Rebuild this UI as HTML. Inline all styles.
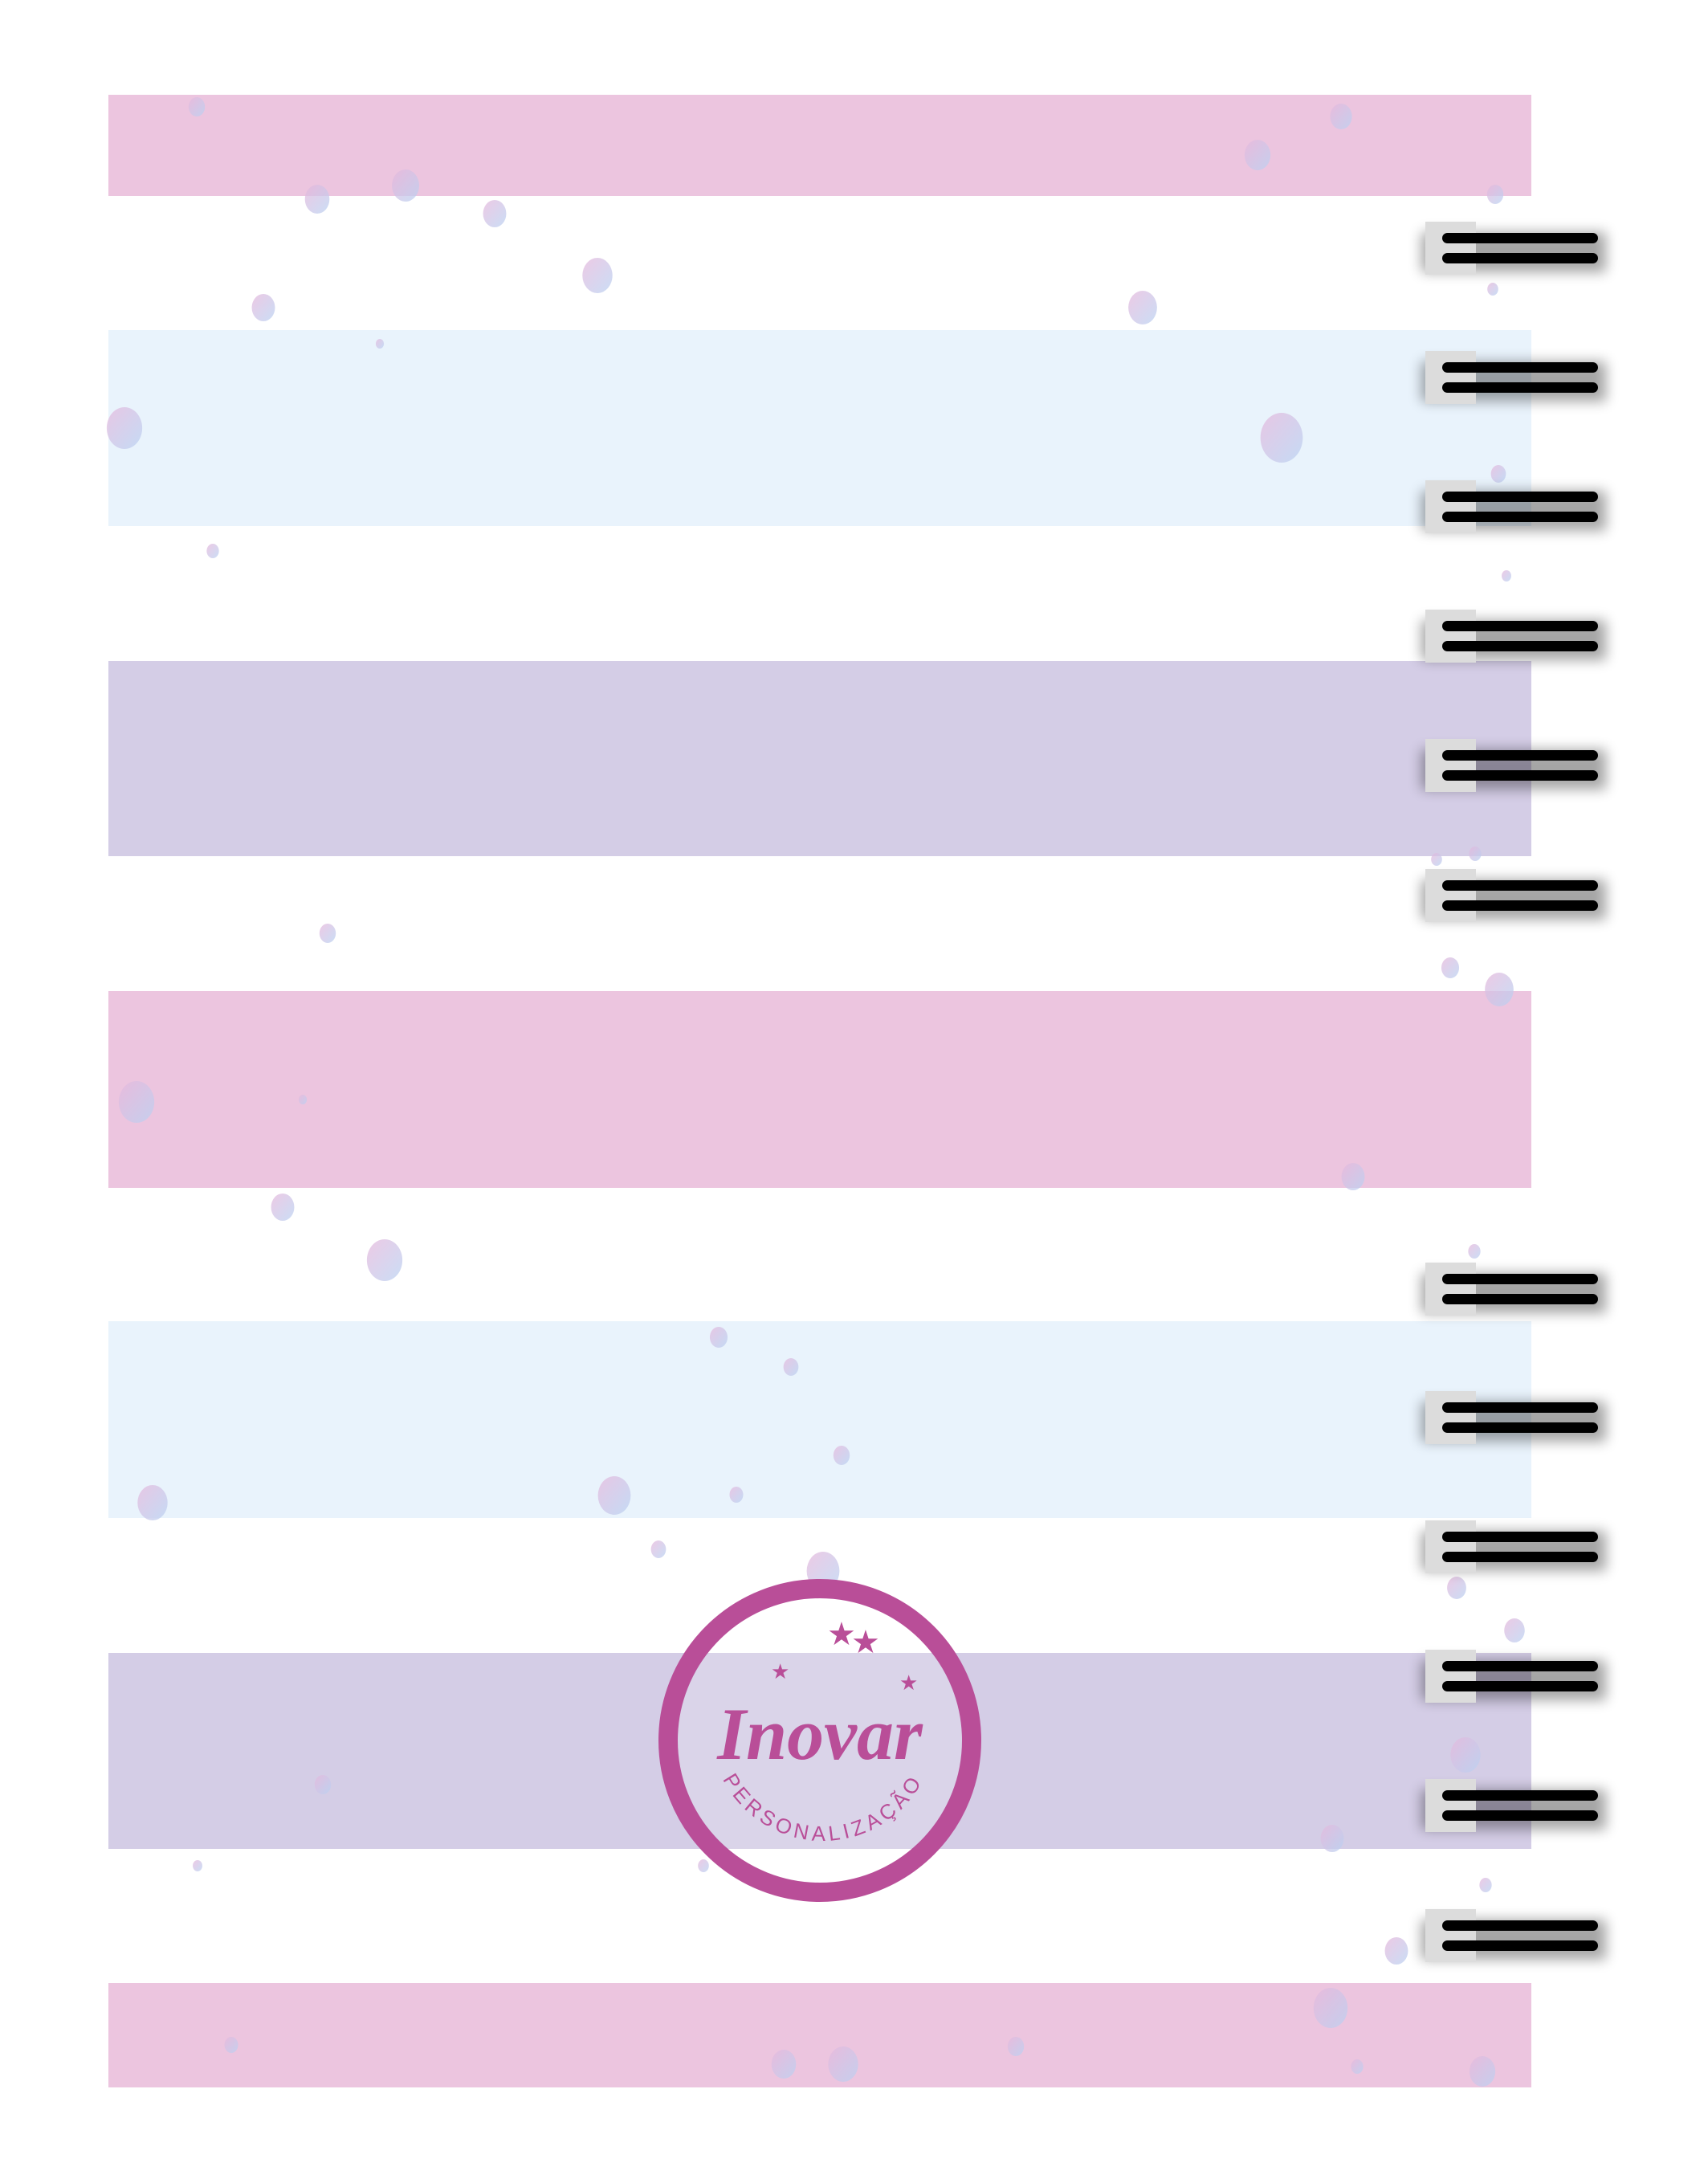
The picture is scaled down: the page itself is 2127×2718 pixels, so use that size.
<!DOCTYPE html>
<html><head><meta charset="utf-8"><style>
html,body{margin:0;padding:0;background:#fff;}
svg{display:block}
</style></head><body>
<svg width="2127" height="2718" viewBox="0 0 2127 2718" xmlns="http://www.w3.org/2000/svg">
<defs>
<linearGradient id="bub" x1="0" y1="0" x2="1" y2="1">
<stop offset="0" stop-color="#e6b8dc"/><stop offset="1" stop-color="#b9d2f2"/>
</linearGradient>
<filter id="sh" x="-30%" y="-50%" width="160%" height="200%"><feGaussianBlur stdDeviation="8"/></filter>
</defs>
<rect width="2127" height="2718" fill="#fff"/>
<g>
<rect x="135" y="118" width="1772" height="126" fill="#ecc5df"/>
<rect x="135" y="411" width="1772" height="244" fill="#e9f3fc"/>
<rect x="135" y="823" width="1772" height="243" fill="#d4cde6"/>
<rect x="135" y="1234" width="1772" height="245" fill="#ecc5df"/>
<rect x="135" y="1645" width="1772" height="245" fill="#e9f3fc"/>
<rect x="135" y="2058" width="1772" height="244" fill="#d4cde6"/>
<rect x="135" y="2469" width="1772" height="130" fill="#ecc5df"/>
</g>
<g id="bubbles" opacity="0.75"></g>
<g id="rings"></g>
<g>
<circle cx="1021" cy="2167" r="189" fill="#fff" opacity="0.15"/>
<circle cx="1021" cy="2167" r="189" fill="none" stroke="#b94e98" stroke-width="24"/>
<text x="1021" y="2190" text-anchor="middle" font-family="Liberation Serif, serif" font-style="italic" font-weight="bold" font-size="92" fill="#b94e98">Inovar</text>
<path id="arc" d="M 900 2215 A 140 140 0 0 0 1150 2215" fill="none"/>
<text font-family="Liberation Sans, sans-serif" font-size="26" letter-spacing="5" fill="#b94e98"><textPath href="#arc">PERSONALIZAÇÃO</textPath></text>
<text x="1030" y="2048" font-size="40" fill="#b94e98" font-family="DejaVu Sans, sans-serif">★</text>
<text x="1060" y="2058" font-size="40" fill="#b94e98" font-family="DejaVu Sans, sans-serif">★</text>
<text x="960" y="2090" font-size="26" fill="#b94e98" font-family="DejaVu Sans, sans-serif">★</text>
<text x="1120" y="2104" font-size="26" fill="#b94e98" font-family="DejaVu Sans, sans-serif">★</text>
</g>
</svg>
<script>
const ns="http://www.w3.org/2000/svg";
const ringYs=[309,470,631,792,953,1115,1605,1765,1926,2087,2248,2410];
const rg=document.getElementById('rings');
ringYs.forEach((y,i)=>{
 const g=document.createElementNS(ns,'g');
 
 
 g.innerHTML=`<rect x="1770" y="${y-20}" width="230" height="50" fill="#000" opacity="0.35" filter="url(#sh)"/>
<rect x="1775" y="${y-33}" width="63" height="66" fill="#dcdcdc"/>
<rect x="1796" y="${y-19}" width="194" height="13" rx="6.5" fill="#000"/>
<rect x="1796" y="${y+6}" width="194" height="13" rx="6.5" fill="#000"/>`;
 rg.appendChild(g);
});
const bubbles=[[245,133,12],[395,248,18],[505,231,20],[616,266,17],[744,343,22],[328,383,17],[1423,383,21],[1566,193,19],[1670,145,16],[1862,242,12],[1859,360,8],[473,428,6],[155,533,26],[1596,545,31],[1866,590,11],[265,686,9],[1876,717,7],[408,1162,12],[1806,1205,13],[1867,1232,21],[170,1372,26],[377,1369,6],[352,1503,17],[479,1569,26],[1685,1465,17],[1836,1558,9],[895,1665,13],[985,1702,11],[1048,1812,12],[765,1862,24],[917,1861,10],[190,1871,22],[820,1929,11],[1025,1956,24],[1814,1977,14],[1886,2030,15],[402,2222,12],[1825,2185,22],[1659,2289,17],[1850,2347,9],[246,2323,7],[876,2323,8],[1739,2429,17],[1657,2500,25],[288,2546,10],[976,2570,18],[1050,2570,22],[1265,2548,12],[1846,2579,19],[1690,2573,9],[1837,1063,9],[1789,1070,8]];
const bg=document.getElementById('bubbles');
bubbles.forEach(b=>{
 const c=document.createElementNS(ns,'ellipse');
 
 
 c.setAttribute('cx',b[0]);c.setAttribute('cy',b[1]);
 c.setAttribute('rx',b[2]*0.85);c.setAttribute('ry',b[2]);
 c.setAttribute('fill','url(#bub)');
 bg.appendChild(c);
});
</script>
</body></html>
